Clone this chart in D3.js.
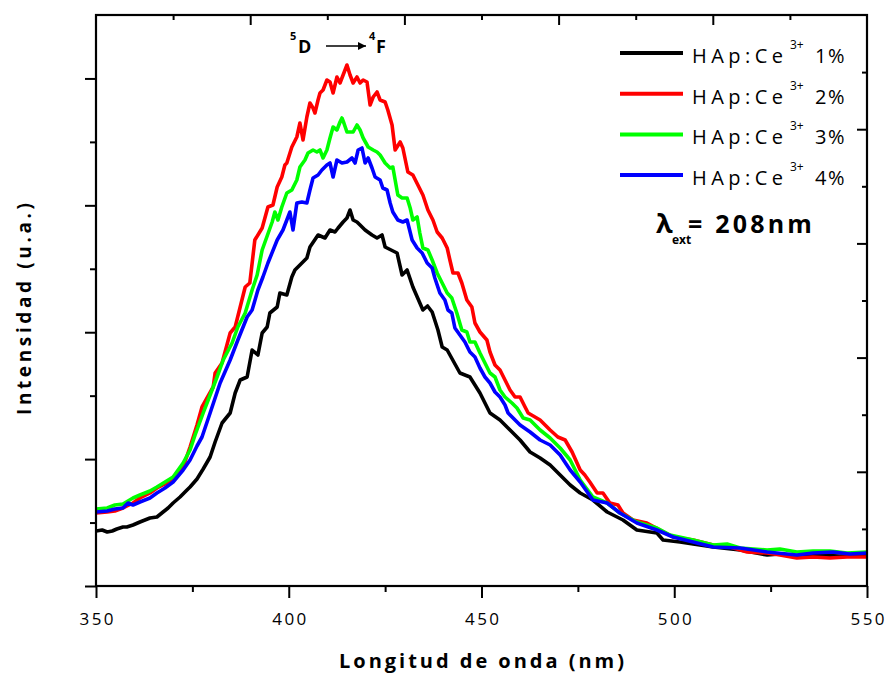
<!DOCTYPE html>
<html>
<head>
<meta charset="utf-8">
<script src="https://cdn.jsdelivr.net/npm/d3@7/dist/d3.min.js"></script>
<style>
  body { margin: 0; background: #fff; }
  svg { display: block; font-family: "Open Sans", "DejaVu Sans", sans-serif; }
</style>
</head>
<body>
<svg id="chart" width="887" height="673"></svg>
<script>
// Data: [wavelength (nm), intensity (a.u.)]
const ce1 = [[350.0,550],[351.6,560],[352.9,540],[354.2,550],[355.4,570],[357.0,590],[358.0,590],[359.6,610],[361.4,640],[362.7,660],[364.0,680],[365.8,690],[367.4,740],[368.7,780],[370.0,830],[371.8,890],[373.6,960],[374.4,990],[376.2,1070],[377.8,1170],[379.6,1290],[380.9,1440],[382.7,1630],[384.8,1730],[386.1,1930],[387.4,2060],[389.2,2090],[390.5,2360],[392.0,2310],[393.1,2530],[394.4,2590],[395.1,2730],[397.0,2790],[397.7,2930],[399.5,2910],[400.8,3090],[401.6,3160],[402.9,3210],[404.7,3280],[405.5,3390],[407.6,3510],[409.4,3480],[410.7,3560],[412.0,3540],[412.8,3580],[414.1,3640],[415.1,3680],[415.9,3760],[416.7,3660],[417.7,3640],[418.5,3610],[419.8,3560],[421.6,3510],[422.9,3480],[424.2,3510],[425.0,3390],[425.5,3380],[428.1,3330],[429.4,3110],[430.7,3160],[432.2,2990],[434.8,2760],[436.0,2800],[437.2,2740],[438.7,2560],[439.8,2390],[441.1,2360],[444.4,2130],[447.0,2090],[449.6,1930],[452.2,1730],[454.8,1660],[457.4,1560],[460.0,1460],[462.6,1340],[465.2,1280],[467.8,1210],[470.4,1110],[473.0,1010],[475.6,930],[478.9,860],[482.6,740],[486.7,660],[490.3,560],[495.5,530],[497.1,460],[501.5,440],[504.9,420],[510.1,390],[517.1,360],[524.1,310],[527.4,320],[531.8,290],[536.0,310],[543.0,300],[550.0,310]];

const ce2 = [[350.0,730],[352.9,740],[354.9,750],[357.0,780],[359.6,830],[361.4,880],[364.0,930],[365.8,980],[367.9,1020],[370.0,1080],[372.6,1190],[374.4,1390],[376.2,1610],[377.5,1790],[380.4,1990],[380.9,2130],[382.7,2230],[384.8,2530],[386.1,2590],[387.4,2790],[388.7,2990],[389.9,3030],[391.2,3460],[393.1,3580],[394.6,3790],[395.9,3810],[397.0,3990],[398.2,4090],[399.0,4210],[399.5,4230],[400.8,4390],[402.1,4490],[402.9,4630],[403.7,4460],[404.7,4690],[405.5,4830],[406.3,4780],[406.8,4730],[407.6,4860],[408.1,4930],[408.9,4960],[409.9,5060],[410.7,5040],[411.5,4930],[412.5,5090],[413.3,5030],[414.1,5110],[415.1,5210],[415.9,5110],[416.7,5030],[417.7,5090],[418.5,5030],[419.3,5060],[420.3,5040],[421.1,4810],[421.9,4890],[422.9,4940],[423.7,4860],[425.0,4840],[425.7,4760],[426.8,4610],[427.6,4360],[428.9,4440],[429.6,4380],[430.9,4140],[432.2,4110],[433.5,4010],[434.8,3910],[436.1,3760],[437.4,3660],[438.5,3540],[439.8,3480],[441.1,3380],[441.8,3260],[442.6,3130],[443.9,3130],[444.9,3030],[446.2,2860],[447.5,2790],[448.3,2630],[449.6,2540],[451.4,2460],[452.2,2340],[453.5,2210],[454.8,2160],[456.1,2060],[457.4,1960],[458.7,1890],[460.0,1890],[461.3,1790],[462.1,1730],[465.2,1660],[467.8,1560],[469.8,1490],[471.7,1460],[473.5,1340],[475.6,1160],[476.8,1110],[478.1,1040],[480.0,930],[481.5,930],[483.3,830],[485.4,810],[486.7,730],[489.3,660],[492.9,630],[496.3,560],[499.7,490],[504.9,460],[510.1,410],[514.5,390],[518.9,340],[524.1,330],[527.4,310],[531.8,280],[536.0,290],[540.4,280],[544.8,290],[550.0,290]];

const ce3 = [[350.0,770],[352.9,780],[354.9,810],[357.0,820],[359.6,880],[361.4,910],[364.0,950],[365.8,990],[367.9,1040],[370.0,1090],[372.6,1230],[374.4,1360],[375.7,1510],[377.8,1730],[379.1,1860],[381.4,2090],[383.0,2260],[385.3,2430],[386.8,2590],[388.7,2730],[390.5,2960],[391.8,3110],[393.1,3360],[394.4,3500],[395.7,3640],[396.4,3740],[397.2,3660],[398.2,3790],[399.5,3930],[400.8,3960],[402.1,4060],[402.9,4190],[404.2,4260],[405.0,4330],[406.3,4360],[407.3,4340],[408.1,4360],[408.9,4280],[409.9,4360],[410.7,4480],[411.5,4590],[412.5,4560],[413.3,4640],[413.8,4680],[414.3,4630],[415.1,4540],[415.9,4540],[416.7,4540],[417.7,4610],[418.5,4560],[419.3,4480],[420.6,4390],[421.9,4360],[422.9,4340],[423.7,4310],[425.0,4230],[426.3,4180],[427.0,4190],[427.6,4060],[428.3,3910],[429.4,3880],[430.7,3880],[431.5,3780],[432.2,3660],[433.3,3690],[434.0,3530],[434.8,3380],[436.1,3360],[437.2,3260],[438.5,3130],[439.8,3030],[441.1,2930],[442.3,2880],[443.6,2730],[444.9,2560],[446.2,2540],[447.0,2440],[448.3,2440],[449.6,2330],[450.9,2230],[452.2,2130],[453.5,2090],[454.8,1960],[456.1,1890],[457.9,1830],[459.2,1780],[460.8,1680],[462.6,1660],[465.2,1560],[467.8,1480],[470.4,1380],[473.0,1260],[475.6,1060],[478.9,890],[482.6,830],[485.9,730],[490.3,640],[495.5,580],[498.9,510],[504.9,460],[510.1,410],[513.7,420],[517.1,380],[524.1,360],[527.4,370],[531.8,340],[536.0,350],[540.4,350],[544.8,330],[550.0,340]];

const ce4 = [[350.0,740],[352.9,750],[354.9,770],[357.0,780],[358.3,830],[359.6,810],[361.4,840],[364.0,880],[365.8,930],[367.9,980],[370.0,1040],[372.6,1160],[374.4,1260],[376.2,1400],[377.5,1490],[379.6,1730],[382.2,2030],[384.8,2260],[386.8,2460],[389.2,2690],[390.5,2760],[392.0,2960],[393.3,3090],[394.6,3230],[397.0,3460],[398.5,3560],[399.5,3660],[400.3,3740],[401.1,3560],[402.1,3830],[403.4,3840],[404.7,3830],[405.5,3960],[406.3,4080],[407.6,4110],[408.6,4160],[409.9,4210],[410.7,4230],[411.5,4090],[412.5,4260],[413.8,4230],[415.1,4240],[416.4,4280],[417.2,4230],[418.0,4360],[419.0,4380],[419.8,4230],[420.6,4280],[421.6,4180],[422.4,4090],[423.7,4060],[424.4,3980],[425.5,3960],[426.3,3830],[427.0,3740],[428.3,3660],[429.6,3640],[430.7,3660],[432.0,3460],[433.3,3380],[434.6,3330],[435.9,3230],[437.2,3180],[437.9,3080],[439.2,2930],[440.5,2860],[441.3,2760],[442.3,2730],[443.1,2580],[444.4,2510],[445.7,2440],[447.0,2340],[448.3,2290],[449.6,2180],[450.9,2090],[452.2,2030],[453.5,1940],[454.8,1890],[456.1,1810],[456.9,1730],[460.0,1610],[462.6,1540],[465.2,1460],[467.8,1410],[470.4,1310],[473.0,1160],[475.6,1040],[478.9,860],[482.6,830],[485.9,730],[490.3,630],[495.5,560],[499.7,490],[504.9,440],[510.1,390],[517.1,380],[524.1,340],[531.8,310],[536.0,330],[541.2,340],[545.6,320],[550.0,330]];

const seriesNames = ["1%", "2%", "3%", "4%"];
const seriesColors = ["#000000", "#ff0000", "#00ff00", "#0000ff"];
const seriesData = [ce1, ce2, ce3, ce4];
const xTicks = [350, 400, 450, 500, 550];
const xMinorTicks = [375, 425, 475, 525];

const W = 887, H = 673;
const margins = { top: 15, right: 20, bottom: 87, left: 96 };
const yMax = 5710;

const svg = d3.select("#chart");

const x = d3.scaleLinear().domain([350, 550]).range([margins.left, W - margins.right]);
const y = d3.scaleLinear().domain([0, yMax]).range([H - margins.bottom, margins.top]);
// Origin's top/right axes run on their own 0..10 scales
const xTop = d3.scaleLinear().domain([0, 10]).range([margins.left, W - margins.right]);
const yRight = d3.scaleLinear().domain([0, 10]).range([H - margins.bottom, margins.top]);

const x0 = margins.left, x1 = W - margins.right, y0 = H - margins.bottom, y1 = margins.top;

// Curves (clip to frame)
svg.append("clipPath").attr("id", "clip")
  .append("rect").attr("x", x0).attr("y", y1).attr("width", x1 - x0).attr("height", y0 - y1);

const line = d3.line().x(d => x(d[0])).y(d => y(d[1]));
svg.append("g").attr("clip-path", "url(#clip)")
  .selectAll("path")
  .data(seriesData)
  .join("path")
  .attr("d", line)
  .attr("fill", "none")
  .attr("stroke", (d, i) => seriesColors[i])
  .attr("stroke-width", 3.6)
  .attr("stroke-linejoin", "round");

// Axes helper
const drawAxis = (axis, transform) => {
  const g = svg.append("g").attr("transform", transform).call(axis);
  g.select(".domain").remove();
  g.selectAll(".tick line").attr("stroke", "#000").attr("stroke-width", 2);
  return g;
};

const leftMajor = d3.range(0, 10, 2).map(i => i * yMax / 9);
const leftMinor = d3.range(1, 9, 2).map(i => i * yMax / 9);
drawAxis(d3.axisLeft(y).tickValues(leftMajor).tickSize(11).tickFormat(""), `translate(${x0},0)`);
drawAxis(d3.axisLeft(y).tickValues(leftMinor).tickSize(6).tickFormat(""), `translate(${x0},0)`);

drawAxis(d3.axisTop(xTop).tickValues([2, 4, 6, 8]).tickSize(-10).tickFormat(""), `translate(0,${y1})`);
drawAxis(d3.axisTop(xTop).tickValues([1, 3, 5, 7, 9]).tickSize(-5).tickFormat(""), `translate(0,${y1})`);
drawAxis(d3.axisRight(yRight).tickValues([2, 4, 6, 8]).tickSize(-10).tickFormat(""), `translate(${x1},0)`);
drawAxis(d3.axisRight(yRight).tickValues([1, 3, 5, 7, 9]).tickSize(-5).tickFormat(""), `translate(${x1},0)`);

drawAxis(d3.axisBottom(x).tickValues(xMinorTicks).tickSize(6).tickFormat(""), `translate(0,${y0})`);
const bottom = drawAxis(d3.axisBottom(x).tickValues(xTicks).tickSize(12).tickPadding(15), `translate(0,${y0})`);
bottom.selectAll(".tick text")
  .attr("fill", "#000")
  .style("font-family", "'Open Sans', sans-serif")
  .style("font-size", "17px")
  .style("letter-spacing", "2.5px")
  .attr("dx", "1.25px");

// Frame
svg.append("rect")
  .attr("x", x0).attr("y", y1)
  .attr("width", x1 - x0).attr("height", y0 - y1)
  .attr("fill", "none").attr("stroke", "#000").attr("stroke-width", 2.2);

// Axis titles
svg.append("text")
  .attr("x", (x0 + x1) / 2).attr("y", 668)
  .attr("text-anchor", "middle")
  .attr("font-weight", "bold").attr("font-size", 20)
  .attr("textLength", 285).attr("lengthAdjust", "spacing")
  .text("Longitud de onda (nm)");

svg.append("text")
  .attr("transform", "translate(31,309) rotate(-90)")
  .attr("text-anchor", "middle")
  .attr("font-weight", "bold").attr("font-size", 19)
  .attr("textLength", 212).attr("lengthAdjust", "spacing")
  .text("Intensidad (u.a.)");

// Legend
const legend = svg.append("g").selectAll("g")
  .data(seriesNames)
  .join("g")
  .attr("transform", (d, i) => `translate(0,${53 + i * 40.7})`);
legend.append("line")
  .attr("x1", 620).attr("x2", 683)
  .attr("stroke", (d, i) => seriesColors[i]).attr("stroke-width", 4);
legend.append("text")
  .attr("x", 692).attr("y", 10).attr("font-size", 20)
  .attr("textLength", 91).attr("lengthAdjust", "spacing")
  .text("HAp:Ce");
legend.append("text")
  .attr("x", 790).attr("y", -4).attr("font-size", 12)
  .text("3+");
legend.append("text")
  .attr("x", 815).attr("y", 10).attr("font-size", 20)
  .style("letter-spacing", "1.5px")
  .text(d => d);

// Excitation wavelength
svg.append("text").attr("x", 656).attr("y", 233)
  .attr("font-weight", "bold").attr("font-size", 27).text("λ");
svg.append("text").attr("x", 672).attr("y", 244)
  .attr("font-weight", "bold").attr("font-size", 12).text("ext");
svg.append("text").attr("x", 688).attr("y", 233)
  .attr("font-weight", "bold").attr("font-size", 25)
  .style("letter-spacing", "3.2px")
  .text("= 208nm");

// Transition label 5D -> 4F
svg.append("defs").append("marker")
  .attr("id", "arrow").attr("viewBox", "0 0 10 10")
  .attr("refX", 10).attr("refY", 5)
  .attr("markerWidth", 10).attr("markerHeight", 8)
  .attr("markerUnits", "userSpaceOnUse")
  .attr("orient", "auto")
  .append("path").attr("d", "M0,0L10,5L0,10Z").attr("fill", "#000");

const trans = svg.append("g").attr("font-weight", "bold");
trans.append("text").attr("x", 290).attr("y", 40).attr("font-size", 11).text("5");
trans.append("text").attr("x", 298).attr("y", 53).attr("font-size", 18).text("D");
trans.append("line")
  .attr("x1", 326).attr("x2", 366).attr("y1", 46).attr("y2", 46)
  .attr("stroke", "#000").attr("stroke-width", 1.5)
  .attr("marker-end", "url(#arrow)");
trans.append("text").attr("x", 369).attr("y", 40).attr("font-size", 11).text("4");
trans.append("text").attr("x", 376).attr("y", 53).attr("font-size", 18).text("F");
</script>
</body>
</html>
